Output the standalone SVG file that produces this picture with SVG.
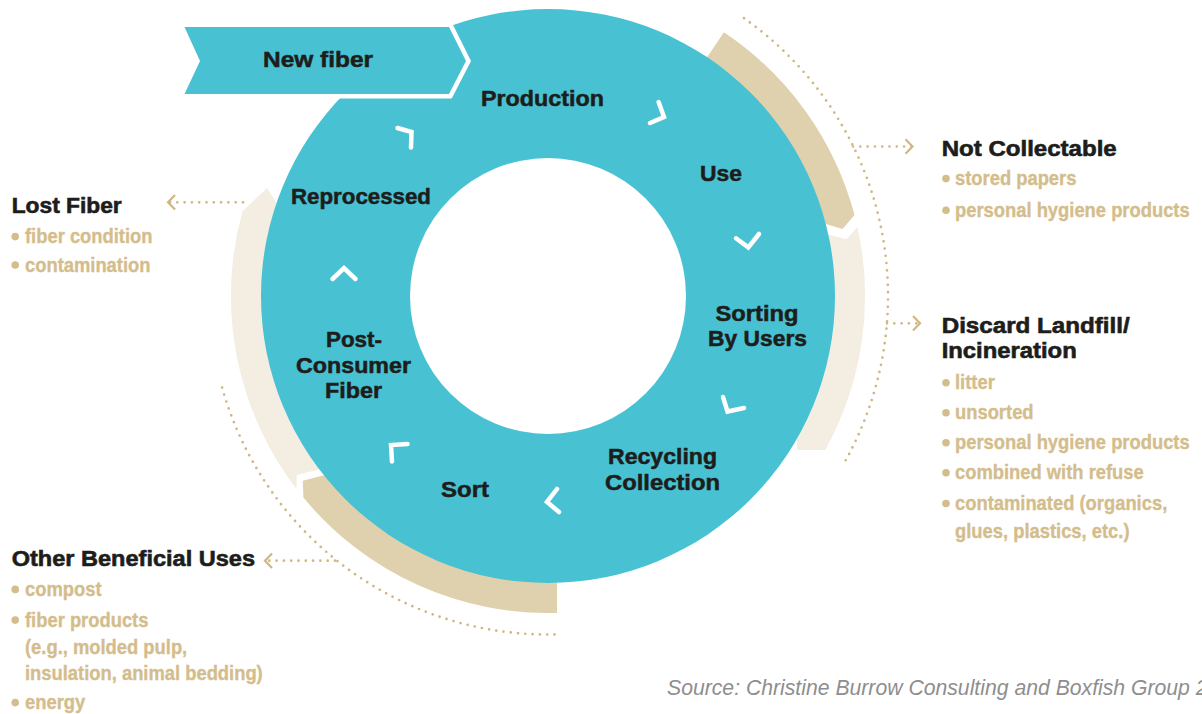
<svg xmlns="http://www.w3.org/2000/svg" width="1202" height="714" viewBox="0 0 1202 714">
<defs>
<style>
.lbl{font-family:"Liberation Sans",Arial,sans-serif;font-weight:700;font-size:21.5px;fill:#1d1d1b;stroke:#1d1d1b;stroke-width:0.5px;text-anchor:middle}
.hd{font-family:"Liberation Sans",Arial,sans-serif;font-weight:700;font-size:22px;fill:#1d1d1b;stroke:#1d1d1b;stroke-width:0.6px}
.it{font-family:"Liberation Sans",Arial,sans-serif;font-weight:700;font-size:21px;fill:#d4bd8c;stroke:#d4bd8c;stroke-width:0.35px}
.bul{fill:#d4bd8c}
.src{font-family:"Liberation Sans",Arial,sans-serif;font-style:italic;font-size:21.2px;fill:#8e8e8e}
.dark{fill:#e0d1ae}
.light{fill:#f3ede2}
.teal{fill:#48c2d3}
.dot{fill:none;stroke:#d0b782;stroke-width:2.7;stroke-linecap:round;stroke-dasharray:0 7.3}
.flow{fill:none;stroke:#fff;stroke-width:4.5;stroke-linecap:round;stroke-linejoin:miter}
</style>
<marker id="ah" markerUnits="userSpaceOnUse" markerWidth="12" markerHeight="18" viewBox="-9 -9 12 18" refX="0" refY="0" orient="auto">
<path d="M-7,-7.3 L0,0 L-7,7.3" fill="none" stroke="#d0b782" stroke-width="2.2"/>
</marker>
</defs>

<g id="bands">
<path id="band-not-collectable" class="dark" d="M723.9 32.3A317 317 0 0 1 854.5 215L842.5 229.1L818.6 221.7A280 280 0 0 0 703.3 63Z"/>
<path id="band-discard" class="light" d="M857.4 226.9A317 317 0 0 1 825.1 450L797 450L797 424A280 280 0 0 0 821.5 232.8L846.7 239.3Z"/>
<path id="band-other-uses" class="dark" d="M557 612.9A317 317 0 0 1 303.4 497.6L302.8 480.8L331.8 473.2A280 280 0 0 0 557 575.9Z"/>
<path id="band-lost-fiber" class="light" d="M267 188L242.5 211.3A317 317 0 0 0 296.5 489L296.7 475L326.8 467.5A280 280 0 0 1 281 210Z"/>
</g>

<g id="connectors">
<path class="dot" d="M744 18.2A340 340 0 0 1 844.8 461.9"/>
<path class="dot" d="M222.1 387.6A338.5 338.5 0 0 0 556.9 634.4"/>
<path class="dot" d="M853 146.5H912.5" marker-end="url(#ah)"/>
<path class="dot" d="M887 323.3H920" marker-end="url(#ah)"/>
<path class="dot" d="M243 202.3H168" marker-end="url(#ah)"/>
<path class="dot" d="M335 560.7H265" marker-end="url(#ah)"/>
</g>

<g id="cycle-ring">
<path class="teal" fill-rule="evenodd" d="M261 296a287 287 0 1 0 574 0a287 287 0 1 0-574 0ZM410 296a138 138 0 1 0 276 0a138 138 0 1 0-276 0Z"/>
</g>

<g id="flow-arrows">
<polyline class="flow" points="658.6,102 664,117 650,123"/>
<polyline class="flow" points="736,238.3 748.3,247.3 759,234"/>
<polyline class="flow" points="723,397 727.5,411.5 744,408"/>
<polyline class="flow" points="557,489 547,502 559,512"/>
<polyline class="flow" points="392,461.5 391,445 407.5,444"/>
<polyline class="flow" points="332.5,279 344,268 355.5,279"/>
<polyline class="flow" points="397.5,128 411.5,132 411,147.5"/>
</g>

<g id="n-new-fiber">
<polygon class="teal" points="184.5,27 449,27 466,61 449,94 184.5,94 200,61" stroke="#fff" stroke-width="9" stroke-linejoin="miter" paint-order="stroke"/>
<text class="lbl" x="318" y="67" textLength="110" lengthAdjust="spacingAndGlyphs">New fiber</text>
</g>
<g id="n-production"><text class="lbl" x="542.5" y="106" textLength="123" lengthAdjust="spacingAndGlyphs">Production</text></g>
<g id="n-use"><text class="lbl" x="721" y="180.5" textLength="42" lengthAdjust="spacingAndGlyphs">Use</text></g>
<g id="n-sorting-by-users">
<text class="lbl" x="757" y="321" textLength="83" lengthAdjust="spacingAndGlyphs">Sorting</text>
<text class="lbl" x="757.5" y="346" textLength="99" lengthAdjust="spacingAndGlyphs">By Users</text>
</g>
<g id="n-recycling-collection">
<text class="lbl" x="662.5" y="464" textLength="109" lengthAdjust="spacingAndGlyphs">Recycling</text>
<text class="lbl" x="662.5" y="490" textLength="115" lengthAdjust="spacingAndGlyphs">Collection</text>
</g>
<g id="n-sort"><text class="lbl" x="465" y="497" textLength="48" lengthAdjust="spacingAndGlyphs">Sort</text></g>
<g id="n-post-consumer-fiber">
<text class="lbl" x="354" y="346.5" textLength="56" lengthAdjust="spacingAndGlyphs">Post-</text>
<text class="lbl" x="353.5" y="372.5" textLength="115" lengthAdjust="spacingAndGlyphs">Consumer</text>
<text class="lbl" x="353.5" y="398" textLength="57" lengthAdjust="spacingAndGlyphs">Fiber</text>
</g>
<g id="n-reprocessed"><text class="lbl" x="361" y="204" textLength="140" lengthAdjust="spacingAndGlyphs">Reprocessed</text></g>

<g id="n-not-collectable">
<text class="hd" x="941.7" y="156" textLength="175" lengthAdjust="spacingAndGlyphs">Not Collectable</text>
<circle class="bul" cx="946" cy="178.6" r="3.8"/>
<text class="it" transform="translate(955 185) scale(.875 1)">stored papers</text>
<circle class="bul" cx="946" cy="210.2" r="3.8"/>
<text class="it" transform="translate(955 216.7) scale(.875 1)">personal hygiene products</text>
</g>

<g id="n-discard">
<text class="hd" x="941.7" y="333" textLength="188" lengthAdjust="spacingAndGlyphs">Discard Landfill/</text>
<text class="hd" x="941.7" y="357.5" textLength="135" lengthAdjust="spacingAndGlyphs">Incineration</text>
<circle class="bul" cx="946" cy="382.8" r="3.8"/>
<text class="it" transform="translate(955 389.3) scale(.875 1)">litter</text>
<circle class="bul" cx="946" cy="412.8" r="3.8"/>
<text class="it" transform="translate(955 419.3) scale(.875 1)">unsorted</text>
<circle class="bul" cx="946" cy="442.8" r="3.8"/>
<text class="it" transform="translate(955 449.3) scale(.875 1)">personal hygiene products</text>
<circle class="bul" cx="946" cy="472.8" r="3.8"/>
<text class="it" transform="translate(955 479.3) scale(.875 1)">combined with refuse</text>
<circle class="bul" cx="946" cy="503.5" r="3.8"/>
<text class="it" transform="translate(955 510) scale(.875 1)">contaminated (organics,</text>
<text class="it" transform="translate(955 538.3) scale(.875 1)">glues, plastics, etc.)</text>
</g>

<g id="n-lost-fiber">
<text class="hd" x="11.7" y="212.7" textLength="110" lengthAdjust="spacingAndGlyphs">Lost Fiber</text>
<circle class="bul" cx="15.2" cy="236.6" r="3.8"/>
<text class="it" transform="translate(25 243.3) scale(.875 1)">fiber condition</text>
<circle class="bul" cx="15.2" cy="265" r="3.8"/>
<text class="it" transform="translate(25 271.7) scale(.875 1)">contamination</text>
</g>

<g id="n-other-uses">
<text class="hd" x="11.7" y="566" textLength="243.3" lengthAdjust="spacingAndGlyphs">Other Beneficial Uses</text>
<circle class="bul" cx="15.2" cy="589.4" r="3.8"/>
<text class="it" transform="translate(25 596) scale(.875 1)">compost</text>
<circle class="bul" cx="15.2" cy="620.1" r="3.8"/>
<text class="it" transform="translate(25 626.7) scale(.875 1)">fiber products</text>
<text class="it" transform="translate(25 654) scale(.875 1)">(e.g., molded pulp,</text>
<text class="it" transform="translate(25 680) scale(.875 1)">insulation, animal bedding)</text>
<circle class="bul" cx="15.2" cy="702.6" r="3.8"/>
<text class="it" transform="translate(25 709.2) scale(.875 1)">energy</text>
</g>

<g id="source">
<text class="src" x="667" y="695">Source: Christine Burrow Consulting and Boxfish Group 2</text>
</g>
</svg>
